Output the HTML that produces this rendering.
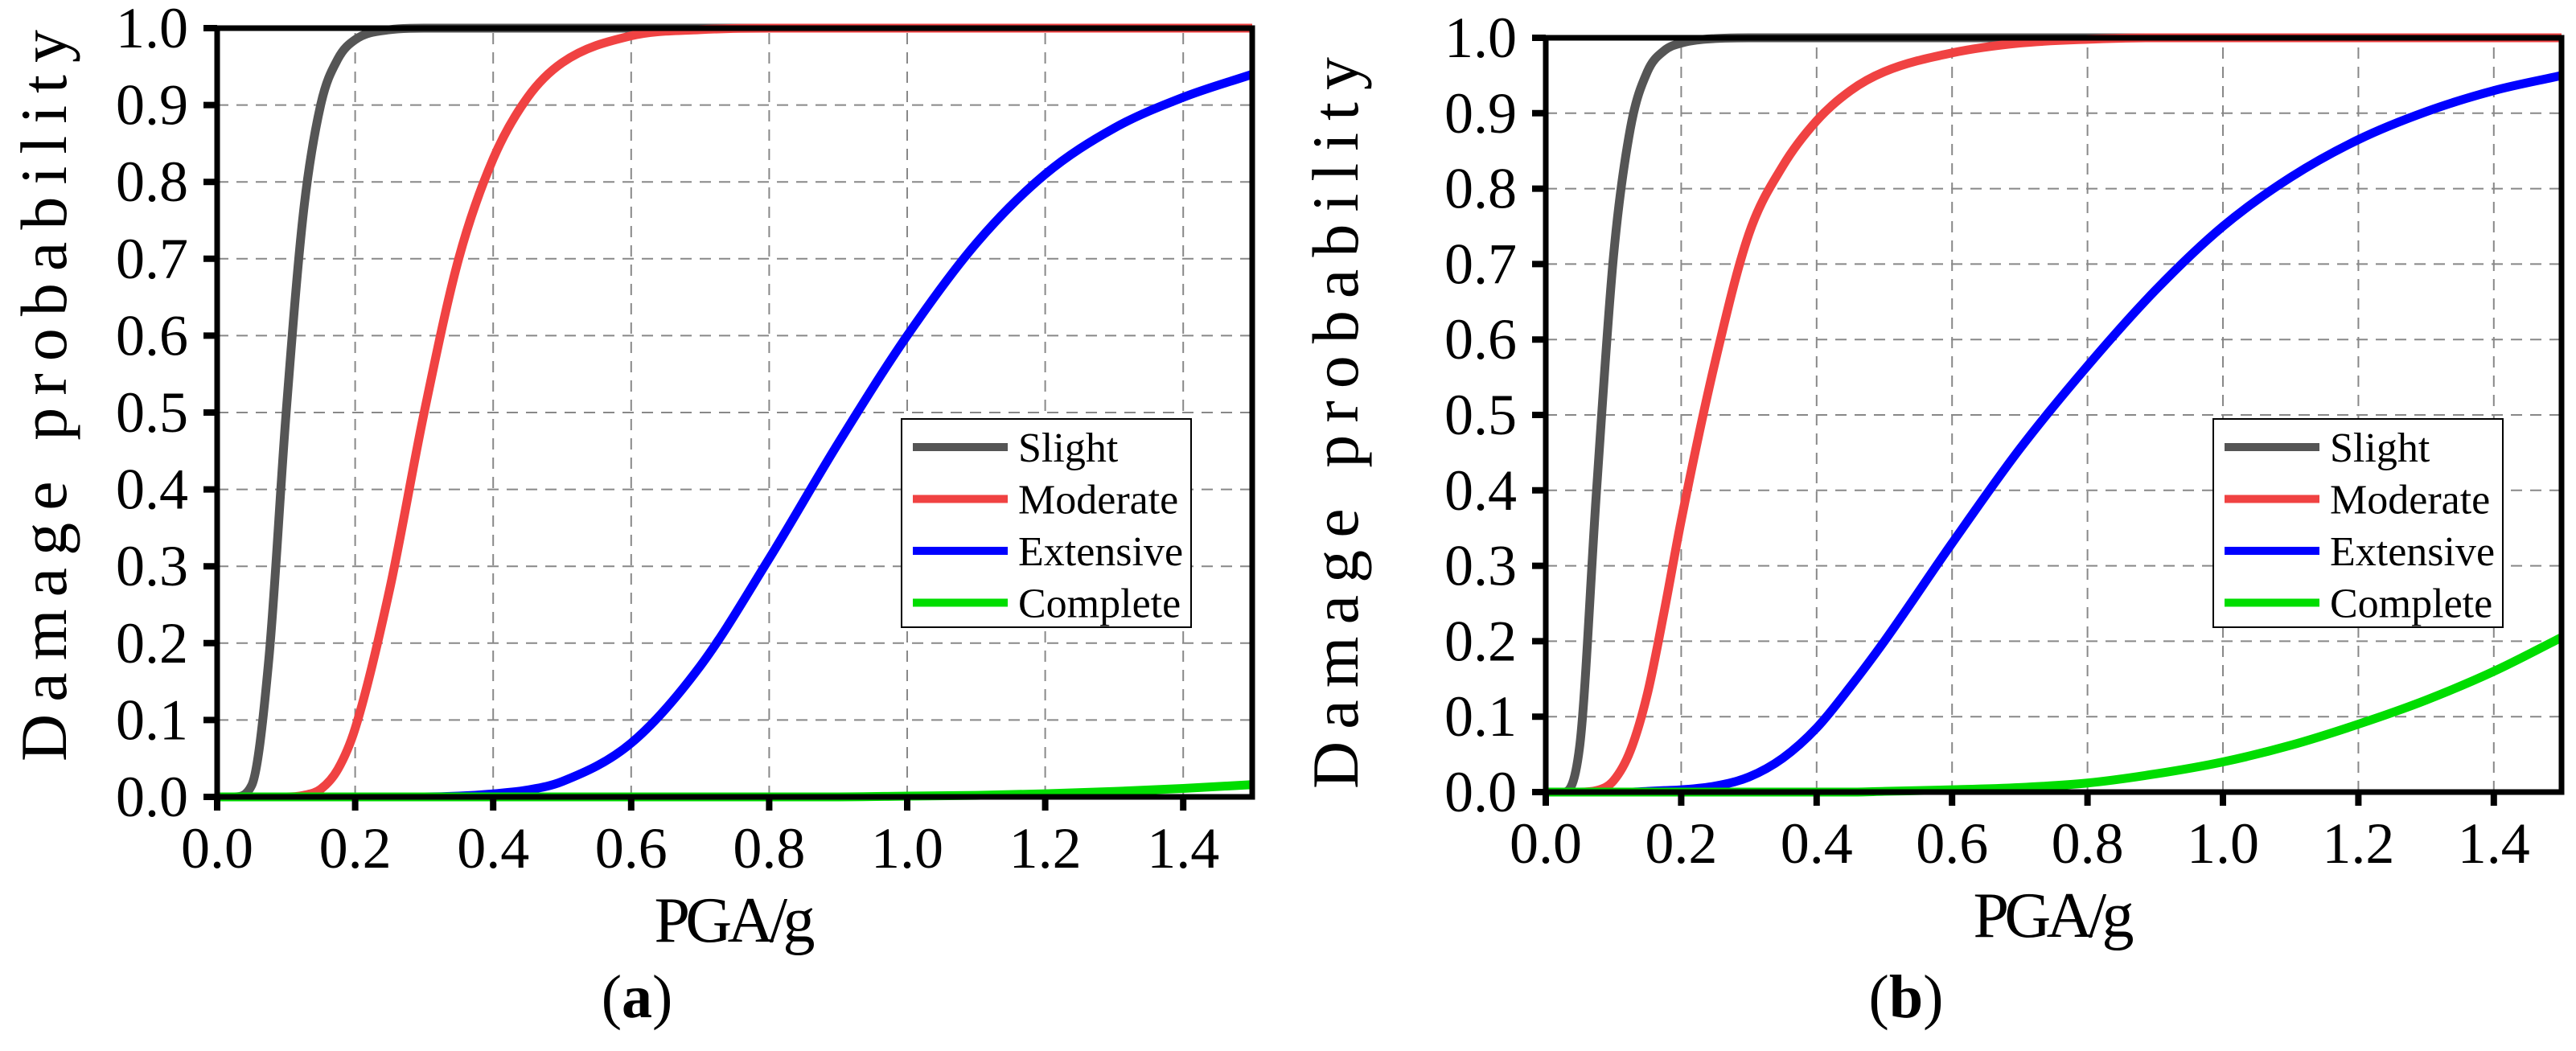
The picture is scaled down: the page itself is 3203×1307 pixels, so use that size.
<!DOCTYPE html>
<html><head><meta charset="utf-8"><style>
html,body{margin:0;padding:0;background:#fff;}
svg{display:block;font-family:"Liberation Serif",serif;}
</style></head><body>
<svg id="fig" width="3203" height="1307" viewBox="0 0 3203 1307" xmlns="http://www.w3.org/2000/svg"></svg>
<script>
const xVals = [0,0.025,0.05,0.075,0.1,0.125,0.15,0.175,0.2,0.25,0.3,0.35,0.4,0.45,0.5,0.6,0.7,0.8,0.9,1.0,1.1,1.2,1.3,1.4,1.5];
const seriesNames = ["Slight","Moderate","Extensive","Complete"];
const xTicks = ["0.0","0.2","0.4","0.6","0.8","1.0","1.2","1.4"];
const yTicks = ["0.0","0.1","0.2","0.3","0.4","0.5","0.6","0.7","0.8","0.9","1.0"];
// panel (a)
const aSlight    = [0,0,0.015,0.18,0.5,0.76,0.90,0.96,0.985,0.998,1,1,1,1,1,1,1,1,1,1,1,1,1,1,1];
const aModerate  = [0,0,0,0,0,0.002,0.01,0.036,0.089,0.27,0.5,0.70,0.83,0.91,0.955,0.99,0.998,1,1,1,1,1,1,1,1];
const aExtensive = [0,0,0,0,0,0,0,0,0,0,0,0.001,0.004,0.009,0.02,0.07,0.17,0.31,0.46,0.60,0.72,0.81,0.87,0.91,0.94];
const aComplete  = [0,0,0,0,0,0,0,0,0,0,0,0,0,0,0,0,0,0,0,0.001,0.002,0.004,0.007,0.011,0.016];
// panel (b)
const bSlight    = [0,0,0.06,0.40,0.71,0.88,0.955,0.983,0.993,0.999,1,1,1,1,1,1,1,1,1,1,1,1,1,1,1];
const bModerate  = [0,0,0,0.002,0.015,0.055,0.13,0.24,0.36,0.57,0.74,0.83,0.89,0.93,0.955,0.98,0.993,0.998,1,1,1,1,1,1,1];
const bExtensive = [0,0,0,0,0,0,0.001,0.002,0.003,0.008,0.02,0.045,0.085,0.14,0.2,0.33,0.455,0.565,0.665,0.75,0.815,0.865,0.902,0.93,0.95];
const bComplete  = [0,0,0,0,0,0,0,0,0,0,0,0,0,0,0.001,0.003,0.006,0.012,0.024,0.04,0.062,0.09,0.122,0.16,0.205];

const colors = ["#555555","#f04242","#0000ff","#00dd00"];
const NS = "http://www.w3.org/2000/svg";
const svg = document.getElementById("fig");
function mk(tag, attrs, parent){const e=document.createElementNS(NS,tag);for(const k in attrs)e.setAttribute(k,attrs[k]);(parent||svg).appendChild(e);return e;}

function monoPath(px, py){
  const n=px.length, d=[], m=[];
  for(let i=0;i<n-1;i++) d.push((py[i+1]-py[i])/(px[i+1]-px[i]));
  m[0]=d[0]; m[n-1]=d[n-2];
  for(let i=1;i<n-1;i++){ m[i]=(d[i-1]*d[i]<=0)?0:(d[i-1]+d[i])/2; }
  for(let i=0;i<n-1;i++){ if(d[i]===0){m[i]=0;m[i+1]=0;continue;} const a=m[i]/d[i],b=m[i+1]/d[i],s=a*a+b*b; if(s>9){const t=3/Math.sqrt(s);m[i]=t*a*d[i];m[i+1]=t*b*d[i];} }
  let p="M"+px[0]+","+py[0];
  for(let i=0;i<n-1;i++){const h=px[i+1]-px[i];p+=" C"+(px[i]+h/3)+","+(py[i]+m[i]*h/3)+" "+(px[i+1]-h/3)+","+(py[i+1]-m[i+1]*h/3)+" "+px[i+1]+","+py[i+1];}
  return p;
}

function panel(P){
  const g=mk("g",{});
  
  
  const X=v=>P.x0+(P.x1-P.x0)*v/1.5, Y=v=>P.y0-(P.y0-P.y1)*v;
  for(let i=1;i<yTicks.length-1;i++){const l=mk("line",{x1:P.x0,x2:P.x1,y1:Y(+yTicks[i]),y2:Y(+yTicks[i]),stroke:"#888","stroke-width":2,"stroke-dasharray":"14,10"},g);
    }
  for(let i=1;i<xTicks.length;i++){const l=mk("line",{x1:X(+xTicks[i]),x2:X(+xTicks[i]),y1:P.y0,y2:P.y1,stroke:"#888","stroke-width":2,"stroke-dasharray":"14,10"},g);
    }
  P.data.forEach((arr,si)=>{
    const p=mk("path",{d:monoPath(xVals.map(X),arr.map(Y)),fill:"none",stroke:colors[si],"stroke-width":11,"stroke-linejoin":"round"},g);
    
    
  });
  const fr=mk("rect",{x:P.x0,y:P.y1,width:P.x1-P.x0,height:P.y0-P.y1,fill:"none",stroke:"#000","stroke-width":7},g);
  
  yTicks.forEach(t=>{
    mk("line",{x1:P.x0-17,x2:P.x0,y1:Y(+t),y2:Y(+t),stroke:"#000","stroke-width":8},g);
    const tx=mk("text",{x:P.x0-36,y:Y(+t)+24,"font-size":72,"text-anchor":"end",fill:"#000"},g);
    tx.textContent=t;
    
  });
  xTicks.forEach(t=>{
    mk("line",{x1:X(+t),x2:X(+t),y1:P.y0,y2:P.y0+17,stroke:"#000","stroke-width":8},g);
    const tx=mk("text",{x:X(+t),y:P.y0+88,"font-size":72,"text-anchor":"middle",fill:"#000"},g);
    tx.textContent=t;
    
  });
  const yt=mk("text",{x:0,y:0,"font-size":82,"text-anchor":"middle",textLength:910,lengthAdjust:"spacing",transform:"translate("+P.ytx+","+P.yty+") rotate(-90)",fill:"#000"},g);
  yt.textContent="Damage probability";
  
  const xt=mk("text",{x:(P.x0+P.x1)/2,y:P.y0+180,"font-size":80,"text-anchor":"middle",textLength:200,lengthAdjust:"spacing",fill:"#000"},g);
  xt.textContent="PGA/g";
  
  const cap=mk("text",{x:P.capx,y:1265,"font-size":76,"text-anchor":"middle",fill:"#000"},g);
  cap.innerHTML='(<tspan font-weight="bold">'+P.id+'</tspan>)';
  
  const lg=mk("g",{},g);
  
  mk("rect",{x:P.lx,y:521,width:360,height:259,fill:"#fff",stroke:"#000","stroke-width":2},lg);
  seriesNames.forEach((n,i)=>{
    const yy=556+i*64.5;
    const e=mk("g",{},lg);
    
    mk("line",{x1:P.lx+14,x2:P.lx+132,y1:yy,y2:yy,stroke:colors[i],"stroke-width":10},e);
    const t=mk("text",{x:P.lx+145,y:yy+18,"font-size":52,fill:"#000"},e);t.textContent=n;
  });
}
panel({id:"a",x0:270,x1:1557,y0:991,y1:35,data:[aSlight,aModerate,aExtensive,aComplete],ytx:82,yty:492,capx:792,lx:1121});
panel({id:"b",x0:1922,x1:3185,y0:985,y1:47,data:[bSlight,bModerate,bExtensive,bComplete],ytx:1688,yty:526,capx:2370,lx:2752});
</script>
</body></html>
